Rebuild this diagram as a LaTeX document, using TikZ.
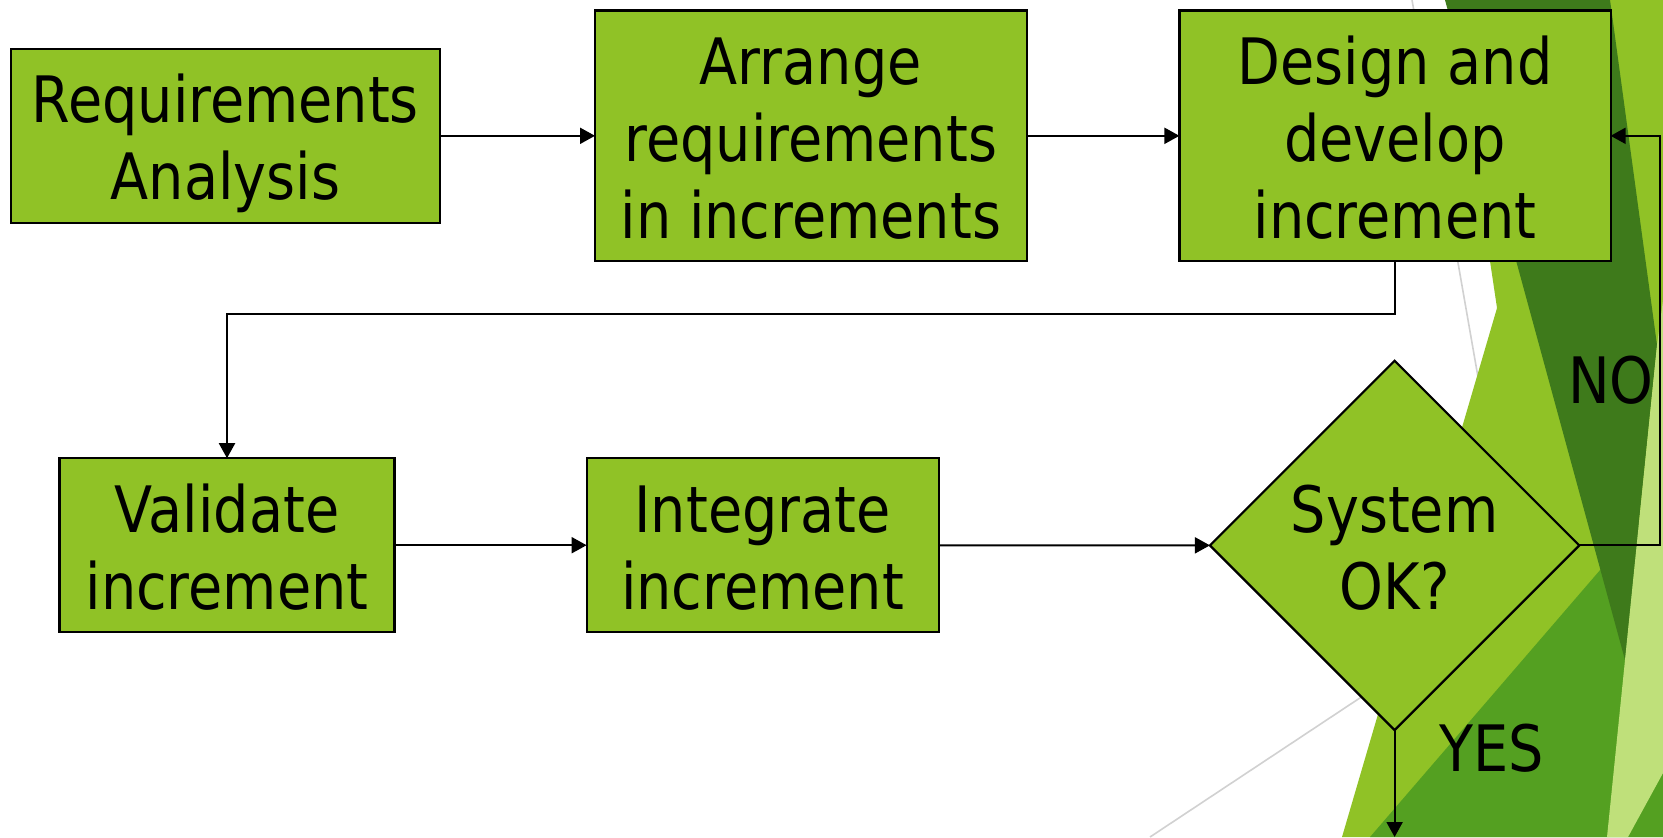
\documentclass[tikz,border=0pt]{standalone}
\usepackage{fontspec}
\setmainfont{DejaVu Sans}[FakeStretch=0.87]
\usetikzlibrary{arrows.meta,shapes.geometric}

\definecolor{facet}{HTML}{90C226}
\definecolor{facetdark}{HTML}{3E7A1B}
\definecolor{facetmid}{HTML}{54A021}
\definecolor{facetpale}{HTML}{BFE07A}
\newcommand\topstrut{\vrule width0pt height34pt depth0pt}
\newcommand\botstrut{\vrule width0pt height0pt depth8.4pt}

\begin{document}
\begin{tikzpicture}[x=0.5pt,y=-0.5pt,>={Triangle[width=8pt,length=7.5pt]},
  box/.style={draw,line width=1.1pt,fill=facet,outer sep=0pt,inner sep=0pt,
    align=center,font=\fontsize{32}{38.5}\selectfont,execute at end node=\botstrut},
  decision/.style={box,diamond,aspect=1,minimum width=183.4pt,minimum height=183pt},
  lbl/.style={inner sep=0pt,font=\fontsize{32}{38.5}\selectfont},
  flow/.style={->,line width=1pt}]
  \useasboundingbox[fill=white] (0,0) rectangle (1663,837);
  % background facets
  \draw[black!18,line width=0.8pt] (1412,0) -- (1482,400);
  \draw[black!18,line width=0.8pt] (1150,837) -- (1390,678);
  \fill[facet] (1451,0) -- (1497,308) -- (1342,837) -- (1663,837) -- (1663,0) -- cycle;
  \fill[facetmid] (1370,837) -- (1663,497) -- (1663,837) -- cycle;
  \fill[facetdark] (1445,0) -- (1610,0) -- (1657,345) -- (1625,660) -- cycle;
  \fill[facetpale] (1663,300) -- (1657,345) -- (1607,837) -- (1628,837) -- (1663,773) -- cycle;

  \node[box,minimum width=214.8pt,minimum height=87pt] (req) at (225.4,135.8) {\topstrut Requirements\\Analysis};
  \node[box,minimum width=215.8pt,minimum height=125.3pt] (arr) at (810.8,135.8) {\topstrut Arrange\\requirements\\in increments};
  \node[box,minimum width=215.6pt,minimum height=125.3pt] (dev) at (1395,135.8) {\topstrut Design and\\develop\\increment};
  \node[box,minimum width=167.5pt,minimum height=87pt] (val) at (227,545.2) {\topstrut Validate\\increment};
  \node[box,minimum width=176pt,minimum height=87pt] (integ) at (762.6,545.2) {\topstrut Integrate\\increment};
  \node[decision] (ok) at (1394.6,545.4) {\topstrut System\\OK?};
  \coordinate (out) at (1394.6,837);

  \draw[flow] (req) -- (arr);
  \draw[flow] (arr) -- (dev);
  \draw[flow] (dev.south) -- ++(0,53.3) -| (val.north);
  \draw[flow] (val) -- (integ);
  \draw[flow] (integ) -- (ok);
  \draw[flow] (ok.east) -- ++(80.5,0) |- (dev.east);
  \draw[flow] (ok.south) -- (out);
  \node[lbl] (no) at (1611,380) {NO};
  \node[lbl] (yes) at (1492,748) {YES};
\end{tikzpicture}
\end{document}
